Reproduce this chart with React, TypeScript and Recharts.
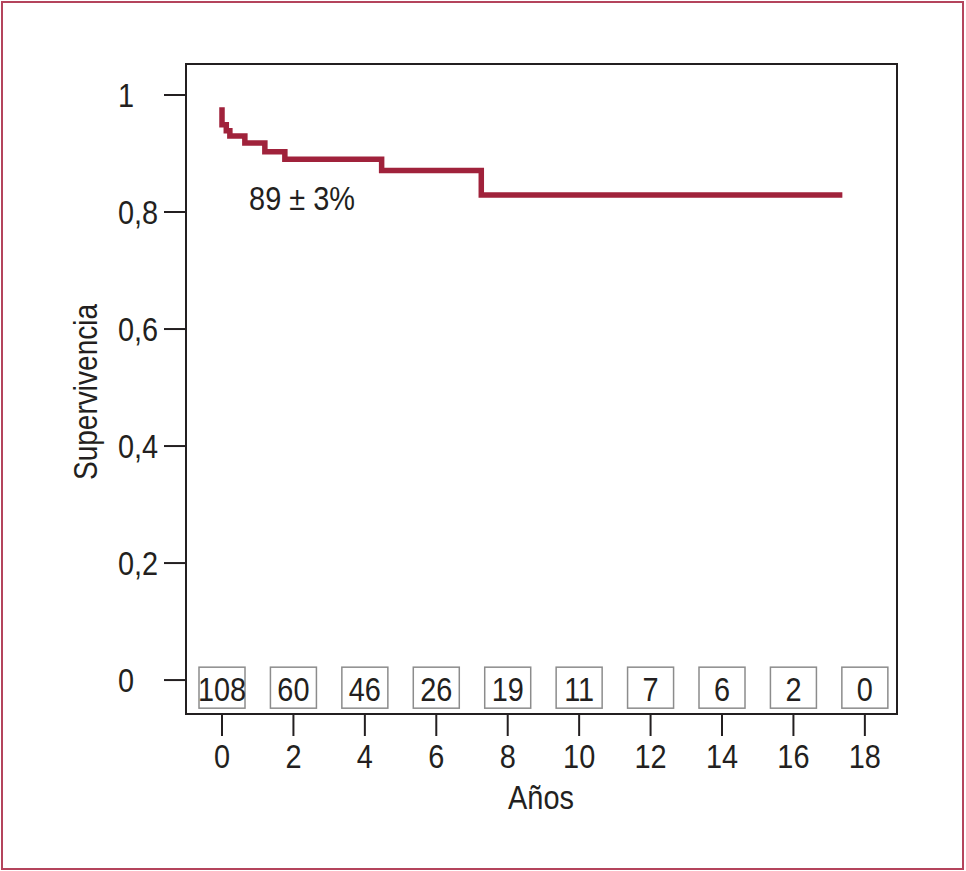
import { ComposedChart, Line, Scatter, XAxis, YAxis, ReferenceArea, ReferenceDot } from 'recharts';

// Kaplan-Meier curve (años, supervivencia)
const times = [0, 0, 0.12, 0.22, 0.64, 1.2, 1.76, 4.47, 7.26, 17.37];
const survival = [0.979, 0.949, 0.939, 0.93, 0.918, 0.903, 0.89, 0.871, 0.829, 0.829];

// números en riesgo
const riskTimes = [0, 2, 4, 6, 8, 10, 12, 14, 16, 18];
const riskCounts = [108, 60, 46, 26, 19, 11, 7, 6, 2, 0];

const xTicks = [0, 2, 4, 6, 8, 10, 12, 14, 16, 18];
const yTicks = [0, 0.2, 0.4, 0.6, 0.8, 1];
const yTickLabels = ['0', '0,2', '0,4', '0,6', '0,8', '1'];

const curve = times.map((t, i) => ({ t, s: survival[i] }));
const risk = riskTimes.map((t, i) => ({ t, s: -0.013, n: riskCounts[i] }));

const FONT = "'Liberation Sans', Arial, sans-serif";
const INK = '#231f20';
const RED = '#a0223b';

// condensed text: Liberation Sans squeezed horizontally
// eslint-disable-next-line @typescript-eslint/no-explicit-any
function Txt({ x, y, anchor = 'middle', size = 34, rotate = 0, children }: any) {
  return (
    <text
      transform={`translate(${x},${y}) rotate(${rotate}) scale(0.85,1)`}
      textAnchor={anchor}
      dominantBaseline="central"
      fontSize={size}
      fill={INK}
      fontFamily={FONT}
    >
      {children}
    </text>
  );
}

// eslint-disable-next-line @typescript-eslint/no-explicit-any
function XTick({ x, y, payload }: any) {
  return (
    <Txt x={x} y={y + 18}>
      {payload.value}
    </Txt>
  );
}

// eslint-disable-next-line @typescript-eslint/no-explicit-any
function YTick({ y, payload }: any) {
  const idx = yTicks.indexOf(payload.value);
  return (
    <Txt x={118} y={y} anchor="start">
      {yTickLabels[idx]}
    </Txt>
  );
}

// eslint-disable-next-line @typescript-eslint/no-explicit-any
function RiskBox({ cx, cy, payload }: any) {
  return (
    <g>
      <rect x={cx - 23} y={cy - 20.5} width={46} height={41} fill="#fff" stroke="#8c8c8c" strokeWidth={1.5} />
      <Txt x={cx} y={cy + 1}>
        {payload.n}
      </Txt>
    </g>
  );
}

export default function App() {
  return (
    <div style={{ position: 'absolute', left: 0, top: 0, width: 966, height: 871, background: '#fff' }}>
      <div
        style={{
          position: 'absolute',
          left: 1,
          top: 1,
          width: 963,
          height: 869,
          boxSizing: 'border-box',
          border: '2px solid #b4445c',
        }}
      />
      <div style={{ position: 'absolute', left: 0, top: 0 }}>
        <ComposedChart width={966} height={871} margin={{ top: 64, right: 69, bottom: 0, left: 0 }}>
          <XAxis
            type="number"
            dataKey="t"
            domain={[-1.008, 18.9]}
            ticks={xTicks}
            allowDataOverflow
            height={157}
            tickSize={22}
            tick={<XTick />}
            stroke={INK}
            axisLine={{ stroke: INK, strokeWidth: 2 }}
            tickLine={{ stroke: INK, strokeWidth: 2 }}
            label={{
              content: () => (
                <Txt x={541} y={797}>
                  Años
                </Txt>
              ),
            }}
          />
          <YAxis
            type="number"
            domain={[-0.058, 1.053]}
            ticks={yTicks}
            allowDataOverflow
            width={186}
            tickSize={22}
            tick={<YTick />}
            stroke={INK}
            axisLine={{ stroke: INK, strokeWidth: 2 }}
            tickLine={{ stroke: INK, strokeWidth: 2 }}
            label={{
              content: () => (
                <Txt x={85} y={392} rotate={-90} size={33}>
                  Supervivencia
                </Txt>
              ),
            }}
          />
          <ReferenceArea x1={-1.008} x2={18.9} y1={-0.058} y2={1.053} fill="none" stroke={INK} strokeWidth={2} />
          <Line
            data={curve}
            dataKey="s"
            type="stepAfter"
            stroke={RED}
            strokeWidth={5.5}
            dot={false}
            activeDot={false}
            isAnimationActive={false}
          />
          <Scatter data={risk} dataKey="s" shape={<RiskBox />} isAnimationActive={false} />
          <ReferenceDot
            x={2.24}
            y={0.826}
            r={0}
            shape={() => (
              <Txt x={302} y={198}>
                89 ± 3%
              </Txt>
            )}
          />
        </ComposedChart>
      </div>
    </div>
  );
}
